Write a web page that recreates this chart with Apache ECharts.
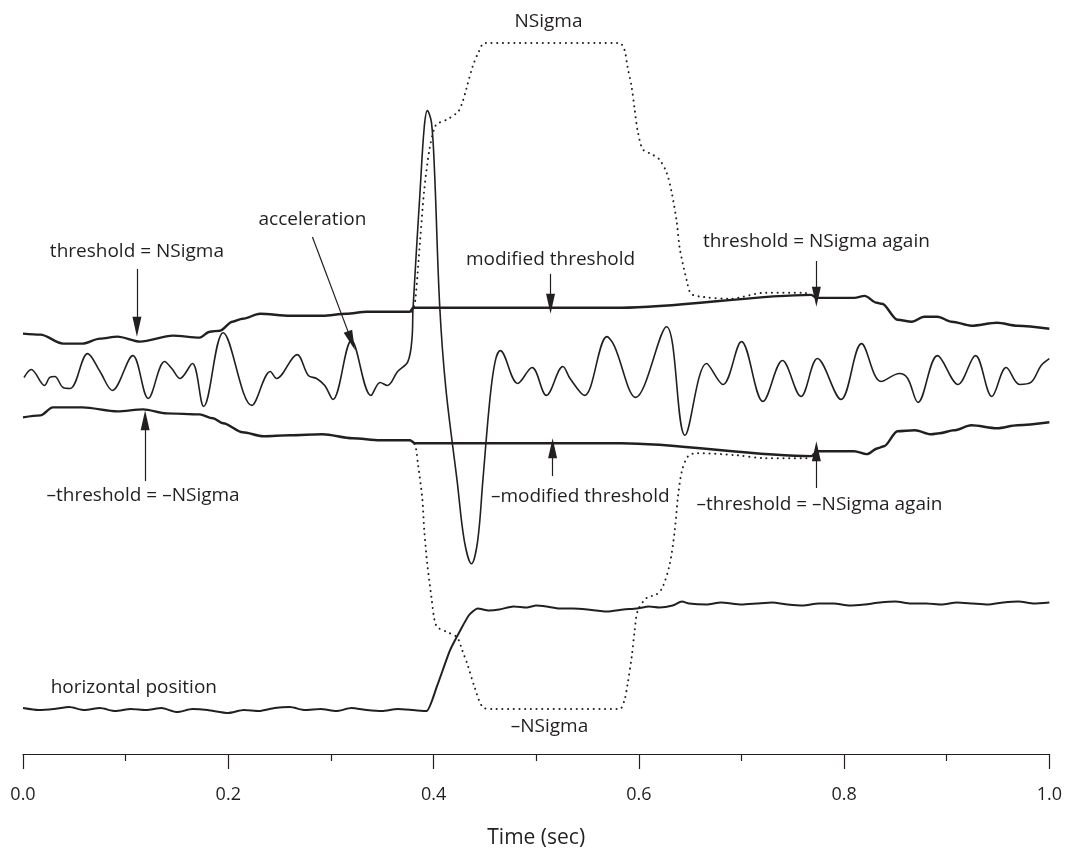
<!DOCTYPE html>
<html>
<head>
<meta charset="utf-8">
<title>Threshold adaptation</title>
<script src="https://cdn.jsdelivr.net/npm/echarts@6/dist/echarts.min.js"></script>
<style>
  html, body { margin: 0; padding: 0; background: #fff; }
  #chart { width: 1065px; height: 854px; }
</style>
</head>
<body>
<div id="chart"></div>
<script>
// time in sec, values in arbitrary units (no y axis in the figure)
const acceleration = [
  [0.001, -0.2], [0.008, 0.6], [0.021, -1.0], [0.026, -0.2], [0.031, -0.1], [0.039, -1.2],
  [0.046, -1.3], [0.063, 2.2], [0.075, 0.4], [0.087, -1.5], [0.107, 2.0], [0.122, -2.3],
  [0.138, 1.4], [0.145, 0.7], [0.153, -0.3], [0.165, 1.2], [0.176, -3.1], [0.195, 4.3],
  [0.223, -3.0], [0.241, 0.4], [0.247, -0.3], [0.267, 2.1], [0.278, 0.0], [0.286, -0.3],
  [0.294, -1.0], [0.302, -2.4], [0.320, 3.5], [0.339, -2.0], [0.348, -0.7], [0.355, -1.0],
  [0.365, 0.4], [0.375, 1.4], [0.379, 3.7], [0.380, 6.7], [0.387, 18.7], [0.391, 25.0],
  [0.394, 26.6], [0.398, 25.4], [0.401, 20.4], [0.406, 7.0], [0.412, -1.3], [0.423, -10.6],
  [0.430, -16.6], [0.437, -18.9], [0.443, -16.6], [0.448, -10.6], [0.455, -2.3], [0.460, 1.4],
  [0.465, 2.5], [0.482, -0.8], [0.496, 0.8], [0.510, -2.0], [0.526, 0.9], [0.533, -0.3],
  [0.547, -2.0], [0.569, 3.9], [0.576, 3.0], [0.597, -2.2], [0.627, 4.9], [0.645, -6.0],
  [0.666, 1.2], [0.682, -0.9], [0.700, 3.4], [0.721, -2.6], [0.740, 1.5], [0.758, -2.1],
  [0.774, 1.7], [0.797, -2.4], [0.817, 3.2], [0.836, -0.6], [0.854, 0.2], [0.862, -0.3],
  [0.872, -2.7], [0.891, 2.0], [0.911, -0.9], [0.928, 2.0], [0.944, -2.1], [0.958, 0.8],
  [0.971, -0.9], [0.982, -0.7], [0.992, 1.0], [1.0, 1.7]
];

const upperThreshold = [
  [0, 4.2], [0.017, 4.1], [0.039, 3.2], [0.058, 3.2], [0.075, 3.7], [0.092, 3.9], [0.114, 3.4],
  [0.146, 4.0], [0.172, 3.8], [0.182, 4.4], [0.192, 4.5], [0.204, 5.4], [0.214, 5.7],
  [0.231, 6.2], [0.260, 6.0], [0.292, 6.0], [0.315, 6.2], [0.335, 6.4], [0.377, 6.4],
  [0.380, 6.8], [0.583, 6.8], [0.768, 8.1], [0.773, 7.8], [0.810, 7.8], [0.820, 8.0],
  [0.832, 7.3], [0.837, 7.2], [0.852, 5.6], [0.866, 5.4], [0.878, 5.9], [0.891, 5.9],
  [0.905, 5.4], [0.924, 5.0], [0.949, 5.3], [0.969, 5.0], [1.0, 4.7]
];

const lowerThreshold = [
  [0, -4.2], [0.017, -4.0], [0.029, -3.2], [0.058, -3.2], [0.092, -3.6], [0.117, -3.4],
  [0.140, -3.8], [0.172, -3.9], [0.185, -4.3], [0.195, -4.8], [0.214, -5.7], [0.234, -6.1],
  [0.260, -6.0], [0.292, -5.9], [0.321, -6.3], [0.348, -6.5], [0.377, -6.5], [0.382, -6.8],
  [0.583, -6.8], [0.768, -8.1], [0.774, -7.6], [0.810, -7.6], [0.822, -7.9], [0.833, -7.3],
  [0.839, -7.1], [0.852, -5.6], [0.869, -5.5], [0.885, -5.9], [0.893, -5.8], [0.907, -5.5],
  [0.924, -5.0], [0.949, -5.3], [0.969, -5.0], [1.0, -4.7]
];

const nSigma = [
  [0.379, 6.4], [0.382, 7.4], [0.387, 13.7], [0.391, 18.7], [0.396, 22.7], [0.401, 24.9],
  [0.404, 25.3], [0.413, 25.7], [0.424, 26.5], [0.428, 27.4], [0.432, 28.8], [0.438, 31.0],
  [0.444, 32.5], [0.450, 33.4], [0.581, 33.4], [0.586, 32.7], [0.589, 31.0], [0.593, 29.0],
  [0.596, 26.7], [0.599, 24.5], [0.604, 22.7], [0.613, 22.2], [0.620, 21.7], [0.627, 20.4],
  [0.632, 18.4], [0.637, 15.4], [0.640, 12.7], [0.647, 9.4], [0.651, 8.2], [0.662, 7.9],
  [0.688, 7.7], [0.723, 8.3], [0.761, 8.3], [0.768, 8.1]
];

const negNSigma = [
  [0.377, -6.5], [0.382, -7.0], [0.385, -9.0], [0.389, -12.3], [0.391, -15.6], [0.394, -19.0],
  [0.398, -22.3], [0.401, -24.6], [0.404, -25.3], [0.414, -25.8], [0.423, -26.3], [0.428, -27.6],
  [0.433, -29.0], [0.440, -31.3], [0.448, -33.3], [0.458, -33.5], [0.581, -33.5], [0.586, -32.6],
  [0.589, -31.0], [0.593, -28.3], [0.596, -25.6], [0.599, -23.6], [0.608, -22.3], [0.617, -22.0],
  [0.623, -21.3], [0.630, -19.0], [0.635, -15.6], [0.638, -12.3], [0.642, -9.6], [0.648, -8.1],
  [0.656, -7.8], [0.695, -8.0], [0.723, -8.3], [0.764, -8.3], [0.768, -8.1]
];

const horizontalPosition = [
  [0, -33.4], [0.015, -33.6], [0.03, -33.5], [0.045, -33.3], [0.06, -33.6], [0.075, -33.4],
  [0.09, -33.7], [0.105, -33.5], [0.12, -33.6], [0.135, -33.4], [0.15, -33.8], [0.165, -33.5],
  [0.18, -33.6], [0.2, -33.9], [0.215, -33.6], [0.23, -33.7], [0.245, -33.4], [0.26, -33.3],
  [0.275, -33.6], [0.29, -33.5], [0.305, -33.7], [0.32, -33.4], [0.335, -33.6], [0.35, -33.7],
  [0.365, -33.5], [0.38, -33.6], [0.393, -33.7], [0.403, -31.3], [0.416, -27.6], [0.426, -25.6],
  [0.435, -24.0], [0.443, -23.4], [0.454, -23.6], [0.464, -23.5], [0.478, -23.2], [0.491, -23.3],
  [0.50, -23.1], [0.510, -23.2], [0.523, -23.4], [0.536, -23.4], [0.55, -23.5], [0.569, -23.7],
  [0.585, -23.5], [0.598, -23.4], [0.610, -23.2], [0.620, -23.3], [0.633, -23.1], [0.642, -22.7],
  [0.649, -22.9], [0.666, -23.0], [0.68, -22.8], [0.70, -23.0], [0.715, -22.9], [0.73, -22.8],
  [0.745, -23.0], [0.76, -23.1], [0.775, -22.9], [0.79, -22.9], [0.805, -23.1], [0.82, -23.0],
  [0.835, -22.8], [0.85, -22.7], [0.865, -22.9], [0.88, -22.9], [0.895, -23.0], [0.91, -22.8],
  [0.925, -22.9], [0.94, -23.0], [0.955, -22.8], [0.97, -22.7], [0.985, -22.9], [1.0, -22.8]
];

// annotation texts and where they sit (time, value)
const noteTexts = [
  'NSigma', 'threshold = NSigma', 'acceleration', 'modified threshold', 'threshold = NSigma again',
  '\u2013threshold = \u2013NSigma', '\u2013modified threshold', '\u2013threshold = \u2013NSigma again',
  'horizontal position', '\u2013NSigma'
];
const noteAt = [
  [0.512, 35.5], [0.111, 12.4], [0.282, 15.7], [0.514, 11.6], [0.773, 13.4],
  [0.117, -12.1], [0.543, -12.2], [0.776, -13.0], [0.108, -31.3], [0.513, -35.3]
];

// arrows: [from, tip]
const arrows = [
  [[0.111, 10.7], [0.111, 4.9]],
  [[0.282, 13.9], [0.320, 3.5]],
  [[0.514, 10.2], [0.514, 7.2]],
  [[0.773, 11.5], [0.773, 7.9]],
  [[0.119, -10.6], [0.119, -4.5]],
  [[0.516, -10.1], [0.516, -7.3]],
  [[0.773, -11.3], [0.773, -7.6]]
];

const ink = '#231f20';
const font = '"Open Sans", "Noto Sans", sans-serif';
const dots = { color: ink, width: 2, type: [0.1, 5.6], cap: 'round' };

const chart = echarts.init(document.getElementById('chart'));

const option = {
  animation: false,
  backgroundColor: '#fff',
  grid: { left: 23, right: 15, top: 17, bottom: 117 },
  xAxis: {
    type: 'value',
    min: 0,
    max: 1,
    interval: 0.2,
    offset: 20,
    name: 'Time (sec)',
    nameLocation: 'middle',
    nameGap: 74,
    nameTextStyle: { color: ink, fontSize: 21, fontFamily: font },
    axisLine: { onZero: false, lineStyle: { color: ink, width: 1.2 } },
    axisTick: { length: 15, lineStyle: { color: ink, width: 1.2 } },
    minorTick: { show: true, splitNumber: 2, length: 7, lineStyle: { color: ink, width: 1.2 } },
    axisLabel: {
      color: ink, fontSize: 18, fontFamily: font, margin: 32,
      formatter: v => v.toFixed(1)
    },
    splitLine: { show: false }
  },
  yAxis: { type: 'value', min: -36, max: 36, show: false },
  series: [
    {
      name: 'upper threshold', type: 'line', data: upperThreshold, showSymbol: false,
      smooth: 0.3, smoothMonotone: 'x',
      lineStyle: { color: ink, width: 2.4 }
    },
    {
      name: 'lower threshold', type: 'line', data: lowerThreshold, showSymbol: false,
      smooth: 0.3, smoothMonotone: 'x',
      lineStyle: { color: ink, width: 2.4 }
    },
    {
      name: 'NSigma', type: 'line', data: nSigma, showSymbol: false,
      smooth: 0.3, lineStyle: dots
    },
    {
      name: '-NSigma', type: 'line', data: negNSigma, showSymbol: false,
      smooth: 0.3, lineStyle: dots
    },
    {
      name: 'horizontal position', type: 'line', data: horizontalPosition, showSymbol: false,
      smooth: 0.2,
      lineStyle: { color: ink, width: 2 }
    },
    {
      name: 'acceleration', type: 'line', data: acceleration, showSymbol: false,
      smooth: 0.35,
      lineStyle: { color: ink, width: 1.6 },
      markLine: {
        silent: true,
        symbol: ['none', 'triangle'],
        symbolSize: [9, 20],
        symbolOffset: [-10, 0],
        label: { show: false },
        lineStyle: { color: ink, width: 1.2, type: 'solid' },
        itemStyle: { color: ink },
        data: arrows.map(a => [{ coord: a[0] }, { coord: a[1] }])
      },
      markPoint: {
        silent: true,
        symbol: 'circle',
        symbolSize: 1,
        itemStyle: { color: 'rgba(0,0,0,0)' },
        label: {
          show: true, position: 'inside', color: ink, fontSize: 19, fontFamily: font
        },
        data: noteTexts.map((t, i) => ({
          coord: noteAt[i],
          label: { formatter: t }
        }))
      }
    }
  ]
};

chart.setOption(option);
</script>
</body>
</html>
